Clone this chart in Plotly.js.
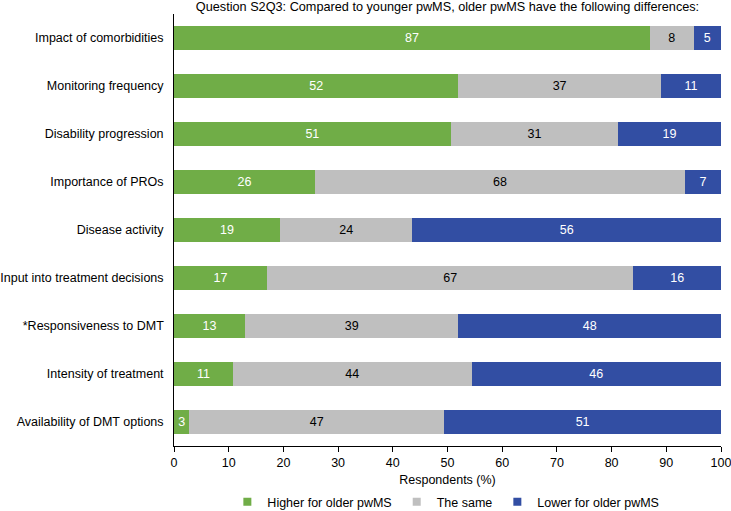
<!DOCTYPE html>
<html>
<head>
<meta charset="utf-8">
<script src="https://cdn.plot.ly/plotly-3.0.1.min.js"></script>
<style>html,body{margin:0;padding:0;background:#fff;}#chart{width:731px;height:511px;}</style>
</head>
<body>
<div id="chart"></div>
<script>
const categories = [
  "Impact of comorbidities",
  "Monitoring frequency",
  "Disability progression",
  "Importance of PROs",
  "Disease activity",
  "Input into treatment decisions",
  "*Responsiveness to DMT",
  "Intensity of treatment",
  "Availability of DMT options"
];
const higher = [87, 52, 50.6, 25.8, 19.4, 17, 13, 10.8, 2.8];
const same   = [8, 37, 30.6, 67.6, 24.2, 67, 39, 43.6, 46.6];
const lower  = [5, 11, 18.8, 6.6, 56.4, 16, 48, 45.6, 50.6];
const seriesNames = ["Higher for older pwMS", "The same", "Lower for older pwMS"];
const xTicks = [0, 10, 20, 30, 40, 50, 60, 70, 80, 90, 100];

const colors = ["#70ad47", "#bfbfbf", "#324ea3"];
const textColors = ["#ffffff", "#000000", "#ffffff"];
const font = "Liberation Sans, Arial, sans-serif";

const barTraces = [higher, same, lower].map((vals, i) => ({
  type: "bar",
  orientation: "h",
  name: seriesNames[i],
  y: categories,
  x: vals,
  marker: {color: colors[i], line: {width: 0}},
  texttemplate: "%{x:.0f}",
  textposition: "inside",
  insidetextanchor: "middle",
  textfont: {color: textColors[i], size: 12.5, family: font},
  hoverinfo: "none",
  showlegend: false
}));

// legend-only entries with small square markers (no data drawn)
const legendTraces = seriesNames.map((name, i) => ({
  type: "scatter",
  mode: "markers",
  name: name,
  x: [null],
  y: [null],
  marker: {symbol: "square", size: 8, color: colors[i]},
  hoverinfo: "none",
  showlegend: true
}));

const layout = {
  width: 731, height: 511,
  barmode: "stack",
  bargap: 0.49,
  margin: {l: 174, r: 10, t: 14, b: 65, autoexpand: false},
  paper_bgcolor: "#fff", plot_bgcolor: "#fff",
  font: {family: font, size: 12.5, color: "#000"},
  title: {
    text: "Question S2Q3: Compared to younger pwMS, older pwMS have the following differences:",
    font: {size: 12.7, family: font, color: "#000"},
    xref: "paper", x: 0.5, xanchor: "center",
    yref: "container", y: 1 - 7 / 511, yanchor: "middle",
    automargin: false
  },
  xaxis: {
    range: [0, 100],
    tickvals: xTicks,
    ticks: "outside", ticklen: 5, tickcolor: "#000",
    showline: true, linecolor: "#000", linewidth: 1,
    showgrid: false, zeroline: false,
    ticklabeloverflow: "allow",
    automargin: false,
    tickfont: {size: 12.5, family: font, color: "#000"},
    title: {text: "Respondents (%)", font: {size: 12.5, family: font, color: "#000"}, standoff: 6}
  },
  yaxis: {
    type: "category",
    categoryorder: "array",
    categoryarray: categories.slice().reverse(),
    range: [-0.5, categories.length - 0.5],
    automargin: false,
    showline: true, linecolor: "#000", linewidth: 1,
    ticks: "", showgrid: false, zeroline: false,
    ticksuffix: "  ",
    tickfont: {size: 12.5, family: font, color: "#000"}
  },
  showlegend: true,
  legend: {
    orientation: "h",
    x: 0.497, xanchor: "center",
    yref: "container",
    y: 1 - 502 / 511, yanchor: "middle",
    font: {size: 12.5, family: font, color: "#000"},
    itemwidth: 30,
    traceorder: "normal"
  }
};

Plotly.newPlot("chart", barTraces.concat(legendTraces), layout, {displayModeBar: false, staticPlot: true});
</script>
</body>
</html>
